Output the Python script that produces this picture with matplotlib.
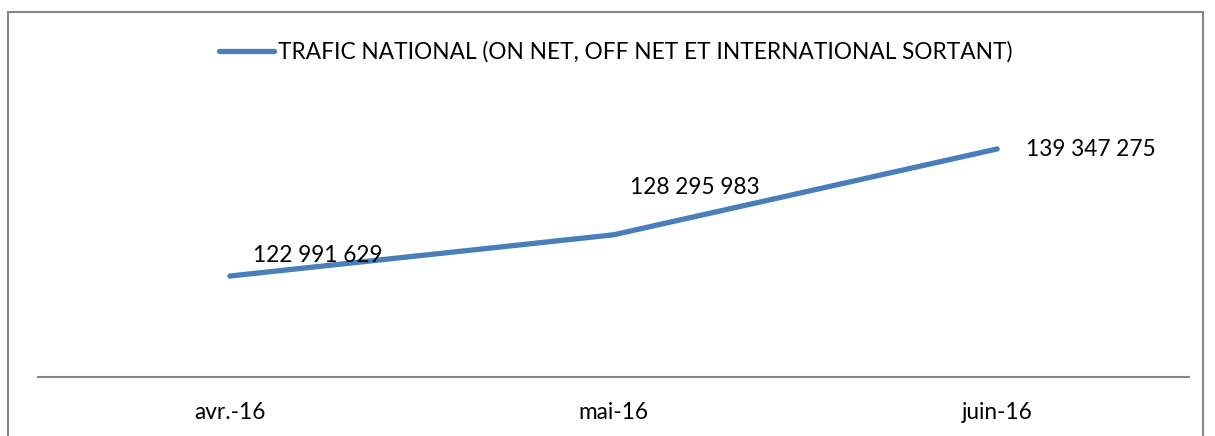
import matplotlib.pyplot as plt
from matplotlib.patches import Rectangle

# ---------- DATA ----------
months = ["avr.-16", "mai-16", "juin-16"]
traffic = [122991629, 128295983, 139347275]
series_name = "TRAFIC NATIONAL (ON NET, OFF NET ET INTERNATIONAL SORTANT)"

# label offsets in pixels (x, y) relative to each point
label_offsets = [(23, 21), (17, 47), (29, -1)]

W, H = 1215, 436
LINE_COLOR = "#4a7ebb"
FS = 16.3
plt.rcParams['font.family'] = ['Lato', 'DejaVu Sans']

fig = plt.figure(figsize=(W / 100, H / 100), dpi=100)

# outer chart border (bottom edge falls outside the picture)
fig.patches.append(Rectangle((8 / W, -0.1), (1203 - 8) / W, 0.1 + (H - 12) / H,
                             transform=fig.transFigure, fill=False,
                             edgecolor="#868686", linewidth=1.5))

ax = fig.add_axes([38 / W, (H - 377) / H, 1151 / W, (377 - 105) / H])
x = range(len(months))
line, = ax.plot(x, traffic, color=LINE_COLOR, linewidth=3.8,
                solid_capstyle='round', label=series_name)

ax.set_xlim(-0.5, len(months) - 0.5)
ax.set_ylim(110e6, 145e6)
ax.set_xticks(list(x))
ax.set_xticklabels(months, fontsize=FS)
ax.set_yticks([])
ax.tick_params(axis='x', length=0, pad=18)
for side in ['left', 'right', 'top']:
    ax.spines[side].set_visible(False)
ax.spines['bottom'].set_color("#868686")
ax.spines['bottom'].set_linewidth(1.5)

for xi, val, (dx, dy) in zip(x, traffic, label_offsets):
    txt = f"{val:,}".replace(",", " ")
    ax.annotate(txt, (xi, val), xytext=(dx, dy), textcoords='offset pixels',
                ha='left', va='center', fontsize=FS)

fig.legend(handles=[line], loc='center', bbox_to_anchor=(616 / W, 1 - 52 / H),
           frameon=False, fontsize=FS, handlelength=2.4, handletextpad=0.2)

fig.savefig("out.png", dpi=100)
